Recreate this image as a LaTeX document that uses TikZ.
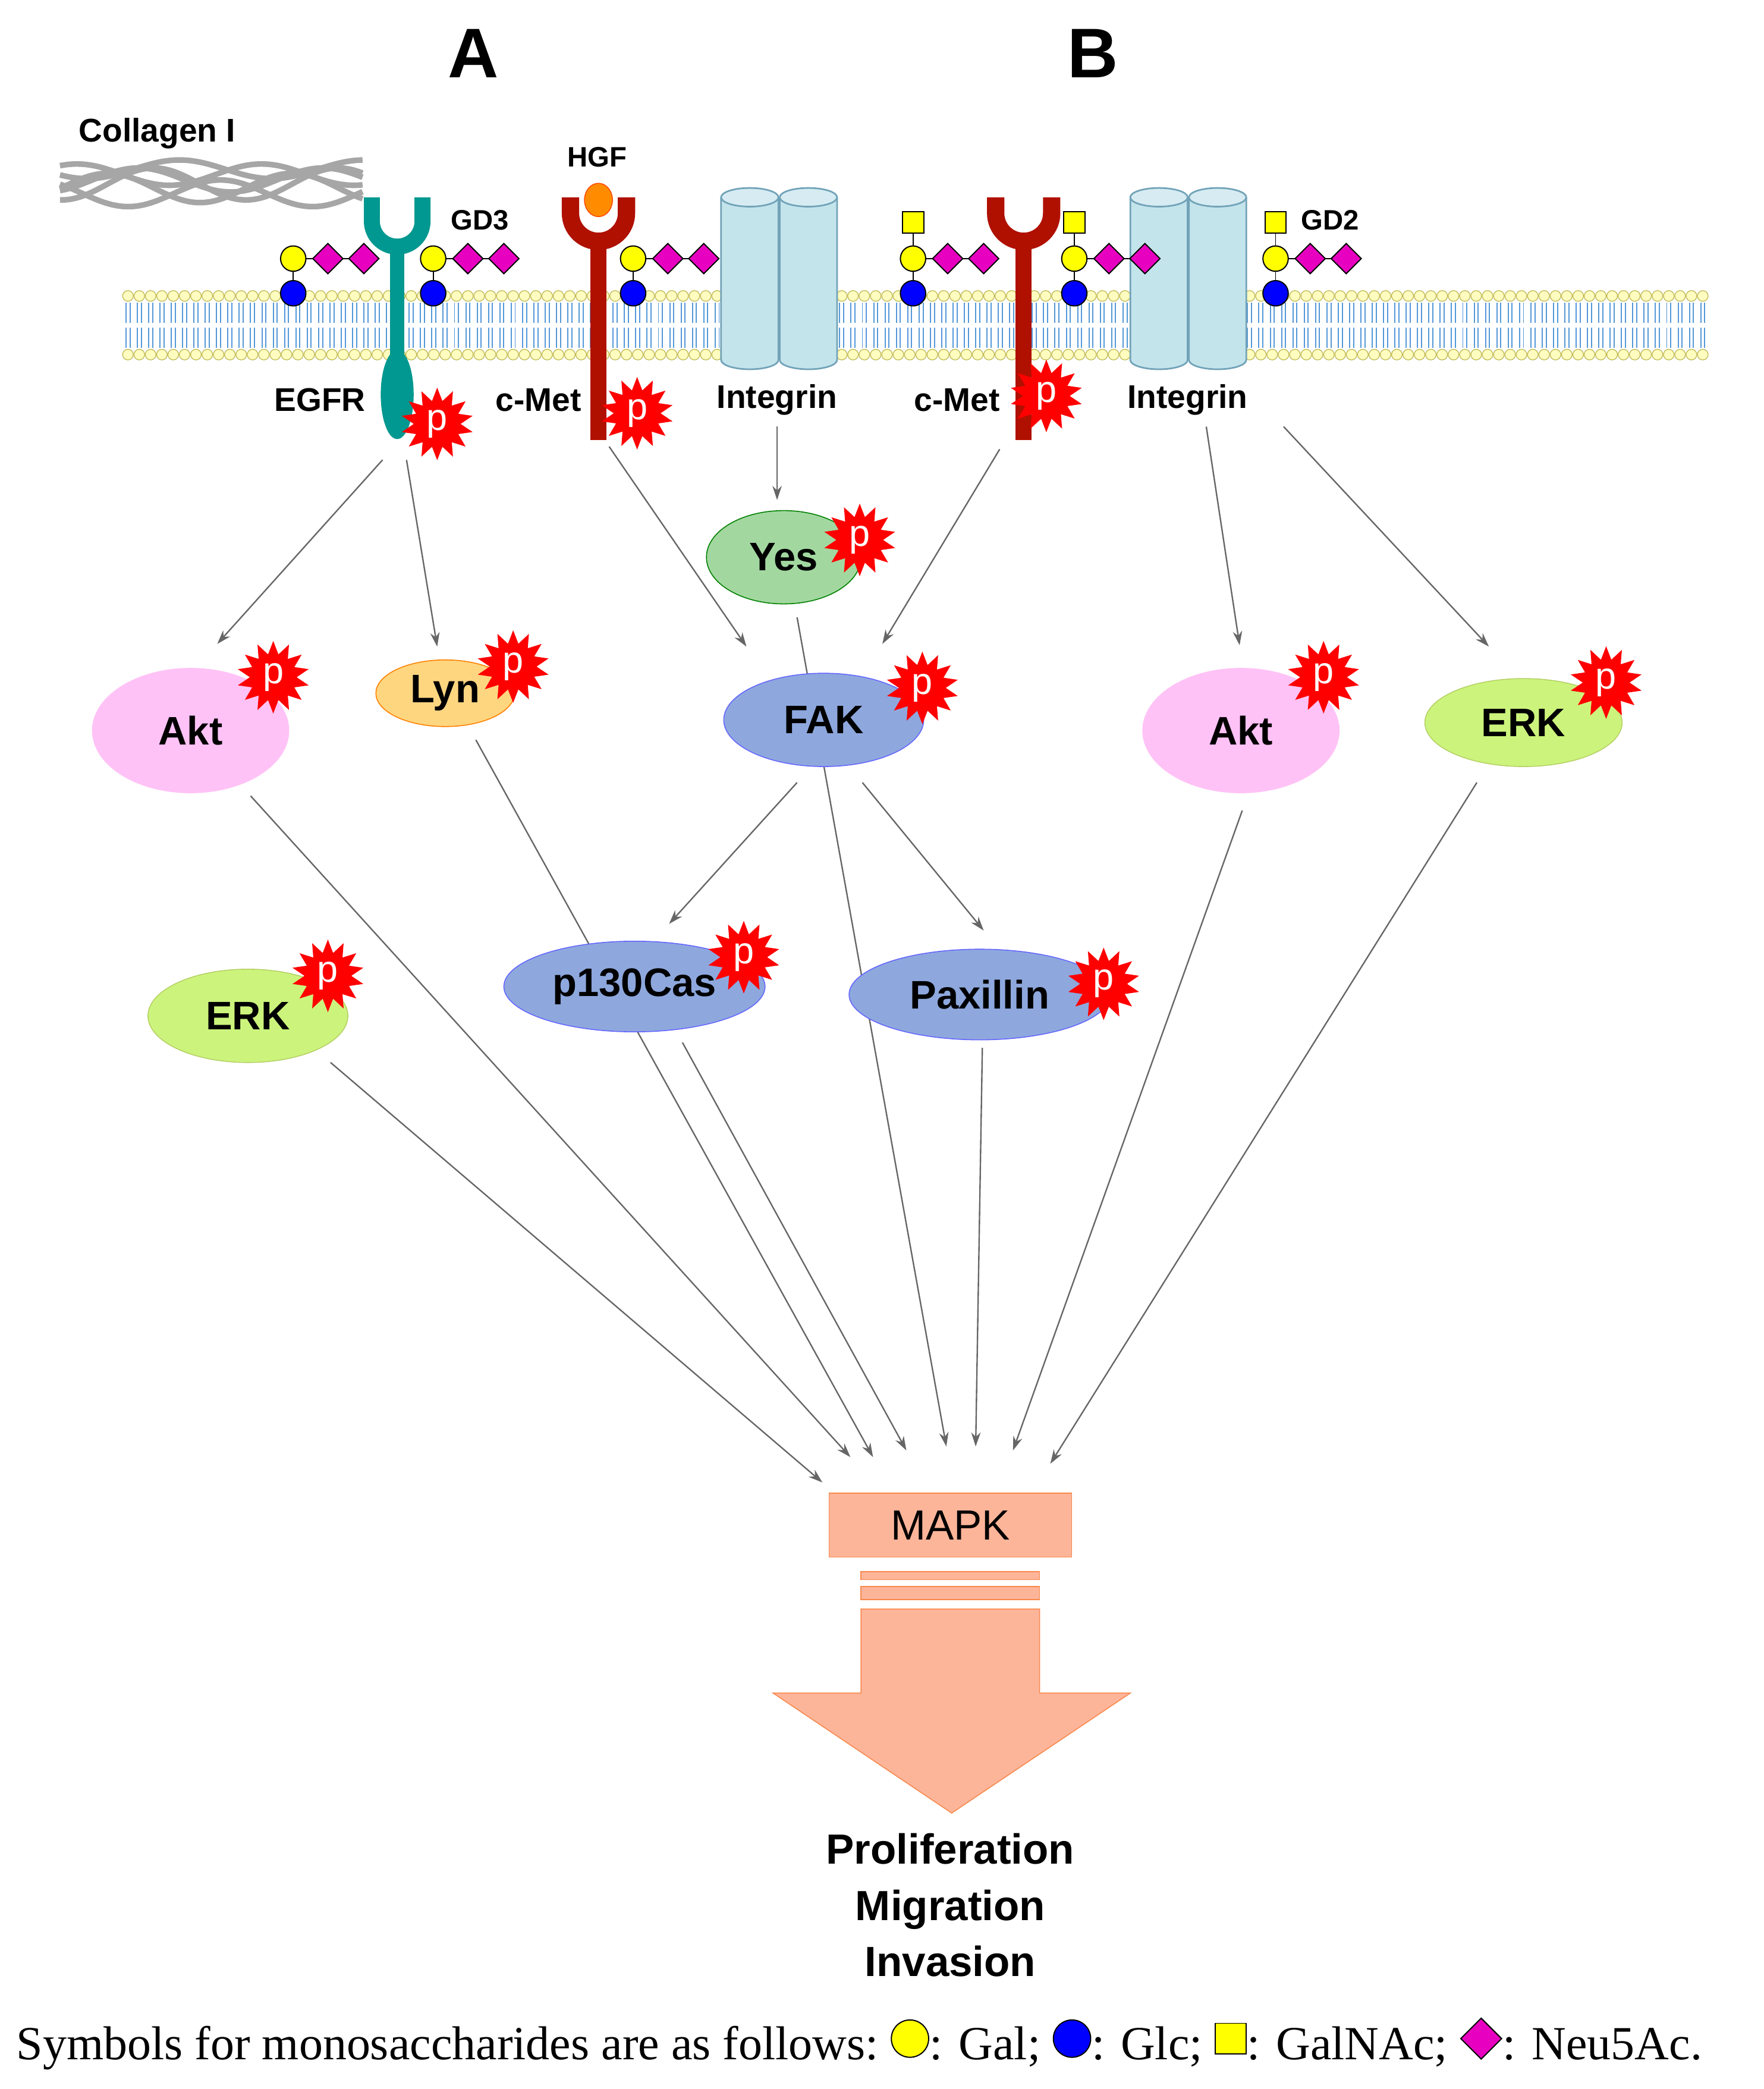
\documentclass[tikz,border=0pt]{standalone}
\usepackage{fontspec}
\setmainfont{Liberation Serif}
\newfontfamily\lsans{Liberation Sans}
\usetikzlibrary{arrows.meta,shapes.geometric,backgrounds,positioning,calc}
\definecolor{gal}{HTML}{FFFF00}
\definecolor{glc}{HTML}{0000FF}
\definecolor{neu}{HTML}{E800C0}
\definecolor{teal1}{HTML}{009890}
\definecolor{cmet}{HTML}{B01000}
\definecolor{intg}{HTML}{C4E4EC}
\definecolor{salmon}{HTML}{FDB59A}
\definecolor{salmonln}{HTML}{F8884C}
\definecolor{pblue}{HTML}{8EA8DE}
\definecolor{pgreen}{HTML}{A2D8A0}
\definecolor{plyn}{HTML}{FFD680}
\definecolor{pakt}{HTML}{FFC2F6}
\definecolor{perk}{HTML}{CCF47C}
\tikzset{
  sug/.style={draw=black, line width=.5pt},
  gal/.style={sug, circle, fill=gal, inner sep=0pt, minimum size=.38cm},
  glc/.style={sug, circle, fill=glc, inner sep=0pt, minimum size=.38cm},
  neu/.style={sug, diamond, fill=neu, inner sep=0pt, minimum size=.46cm},
  gnac/.style={sug, rectangle, fill=gal, inner sep=0pt, minimum size=.32cm},
  glycan/.pic={
    \draw[line width=.5pt] (0,0) -- (0,26) (0,0) -- (53,0);
    \node[glc] at (0,26) {};
    \node[gal] at (0,0) {};
    \node[neu] at (26,0) {};
    \node[neu] at (53,0) {};
  },
  glycansq/.pic={
    \draw[line width=.5pt] (0,0) -- (0,-27);
    \node[gnac] at (0,-27) {};
    \pic at (0,0) {glycan};
  },
  prot/.style={ellipse, font=\lsans\bfseries\fontsize{17}{20}\selectfont, inner sep=0pt},
  pstar/.style={star, star points=14, star point ratio=1.55, fill=red, draw=red,
    minimum size=1.05cm, inner sep=0pt, text=white, font=\lsans\fontsize{16}{18}\selectfont},
  lab/.style={font=\lsans\bfseries\fontsize{14}{16}\selectfont},
  sig/.style={-{Stealth[length=6pt,width=4pt]}, gray!80!black, line width=.6pt},
  legt/.style={anchor=base west, inner sep=0pt, font=\fontsize{20.3}{24}\selectfont},
}
\begin{document}
\begin{tikzpicture}[x=0.02cm, y=-0.02cm]
\useasboundingbox (0,0) rectangle (1323,1567);

% titles
\node[font=\lsans\bfseries\fontsize{30}{34}\selectfont] (tA) at (355,40) {A};
\node[font=\lsans\bfseries\fontsize{30}{34}\selectfont] (tB) at (820,40) {B};

% collagen
\node[lab] (coll) at (118,100) {Collagen I};
\foreach \ph/\dy/\a in {0/0/9, 60/6/11, 120/-4/8, 200/10/10, 280/-8/7, 330/3/12}
  \draw[gray!70, line width=2.4pt] plot[domain=45:272, samples=60, smooth]
    (\x, {135+\dy+\a*sin(\x*2.6+\ph)});

% membrane
\foreach \i in {0,...,139} {
  \pgfmathsetmacro\xx{96+\i*8.5}
  \draw[cyan!60!blue!70, line width=.5pt] (\xx-1.5,227) -- (\xx-1.5,242) (\xx+1.5,227) -- (\xx+1.5,242)
    (\xx-1.5,246) -- (\xx-1.5,261) (\xx+1.5,246) -- (\xx+1.5,261);
  \draw[olive!60, fill=yellow!25, line width=.3pt] (\xx,222) circle (4) (\xx,266) circle (4);
}

% integrins
\foreach \x/\n in {541/iA, 848/iB} {
  \foreach \s in {0,44} {
    \draw[fill=intg, draw=gray!60!cyan, line width=.7pt]
      (\x+\s,148) -- (\x+\s,270) arc(180:0:21.5 and 7) -- (\x+\s+43,148);
    \draw[fill=intg!70!white, draw=gray!60!cyan, line width=.7pt] (\x+\s+21.5,148) ellipse (21.5 and 7);
  }
}

% EGFR
\draw[teal1, line width=.24cm] (279,148) -- (279,166) arc(180:0:19) -- (317,148);
\draw[teal1, line width=.22cm] (298,183) -- (298,268);
\draw[fill=teal1, draw=teal1] (298,296) ellipse (12 and 33);
% c-Met
\draw[cmet, line width=.26cm] (428,148) -- (428,160) arc(180:0:21) -- (470,148);
\draw[cmet, line width=.26cm] (747,148) -- (747,160) arc(180:0:21) -- (789,148);
\draw[cmet, line width=.24cm] (449,178) -- (449,330);
\draw[cmet, line width=.24cm] (768,178) -- (768,330);
\node[ellipse, fill=orange!90!yellow, draw=orange!60!red, minimum width=.42cm, minimum height=.5cm] (hgf) at (449,150) {};
\node[lab, font=\lsans\bfseries\fontsize{12}{14}\selectfont] (hgfl) at (448,118) {HGF};

% glycans
\pic at (220,194) {glycan};
\pic at (325,194) {glycan};
\pic at (475,194) {glycan};
\pic at (685,194) {glycansq};
\pic at (806,194) {glycansq};
\pic at (957,194) {glycansq};
\node[lab, font=\lsans\bfseries\fontsize{12}{14}\selectfont] (gd3) at (360,165) {GD3};
\node[lab, font=\lsans\bfseries\fontsize{12}{14}\selectfont] (gd2) at (998,165) {GD2};

% receptor labels
\node[lab] (egfr) at (240,300) {EGFR};
\node[lab] (cmetA) at (404,300) {c-Met};
\node[lab] (intA) at (583,300) {Integrin};
\node[lab] (cmetB) at (718,300) {c-Met};
\node[lab] (intB) at (891,300) {Integrin};
\coordinate (egfrA) at (287,345);
\coordinate (egfrB) at (305,345);
\coordinate (metA) at (457,335);
\coordinate (metB) at (750,337);
\coordinate (intAo) at (583,320);
\coordinate (intBa) at (905,320);
\coordinate (intBb) at (963,320);

% proteins
\node[prot, fill=pakt, minimum width=2.96cm, minimum height=1.88cm] (akt1) at (143,548) {Akt};
\node[prot, fill=plyn, draw=orange, minimum width=2.08cm, minimum height=1cm] (lyn) at (334,520) {Lyn};
\node[prot, fill=pgreen, draw=green!50!black, minimum width=2.32cm, minimum height=1.4cm] (yes) at (588,418) {Yes};
\node[prot, fill=pblue, draw=blue!60, minimum width=3cm, minimum height=1.4cm] (fak) at (618,540) {FAK};
\node[prot, fill=pakt, minimum width=2.96cm, minimum height=1.88cm] (akt2) at (931,548) {Akt};
\node[prot, fill=perk, draw=lime!70!black!60, minimum width=2.96cm, minimum height=1.32cm] (erk2) at (1143,542) {ERK};
\node[prot, fill=perk, draw=lime!70!black!60, minimum width=3cm, minimum height=1.4cm] (erk1) at (186,762) {ERK};
\node[prot, fill=pblue, draw=blue!60, minimum width=3.92cm, minimum height=1.36cm] (p130) at (476,740) {p130Cas};
\node[prot, fill=pblue, draw=blue!60, minimum width=3.92cm, minimum height=1.36cm] (pax) at (735,746) {Paxillin};

% phosphorylation stars
\node[pstar] (pEgfr) at (328,318) {p};
\node[pstar] (pMetA) at (478,310) {p};
\node[pstar] (pMetB) at (785,297) {p};
\node[pstar] (pAkt1) at (205,508) {p};
\node[pstar] (pLyn) at (385,500) {p};
\node[pstar] (pYes) at (645,405) {p};
\node[pstar] (pFak) at (692,516) {p};
\node[pstar] (pAkt2) at (993,508) {p};
\node[pstar] (pErk2) at (1205,512) {p};
\node[pstar] (pErk1) at (246,732) {p};
\node[pstar] (pP130) at (558,718) {p};
\node[pstar] (pPax) at (828,738) {p};

% MAPK and outcome
\node[rectangle, fill=salmon, draw=salmonln, minimum width=3.64cm, minimum height=.96cm,
  font=\lsans\fontsize{18}{20}\selectfont] (mapk) at (713,1144) {MAPK};
\draw[fill=salmon, draw=salmonln] (646,1179) rectangle (780,1185);
\draw[fill=salmon, draw=salmonln] (646,1190) rectangle (780,1200);
\draw[fill=salmon, draw=salmonln] (646,1207) -- (780,1207) -- (780,1270) -- (848,1270)
  -- (714,1360) -- (580,1270) -- (646,1270) -- cycle;
\node[font=\lsans\bfseries\fontsize{18}{24}\selectfont, align=center] (out) at (713,1429)
  {Proliferation\\Migration\\Invasion};

% arrow targets at MAPK
\coordinate (m1) at (617,1112);
\coordinate (m2) at (638,1093);
\coordinate (m3) at (655,1093);
\coordinate (m4) at (680,1088);
\coordinate (m5) at (710,1085);
\coordinate (m6) at (732,1085);
\coordinate (m7) at (760,1088);
\coordinate (m8) at (788,1098);

% signalling
\begin{pgfonlayer}{background}
\draw[sig] (egfrA) -- ($(akt1)+(20,-65)$);
\draw[sig] (egfrB) -- ($(lyn)+(-6,-35)$);
\draw[sig] (metA) -- ($(fak)+(-58,-55)$);
\draw[sig] (intAo) -- ($(yes)+(-5,-43)$);
\draw[sig] (metB) -- ($(fak)+(44,-57)$);
\draw[sig] (intBa) -- ($(akt2)+(-1,-64)$);
\draw[sig] (intBb) -- ($(erk2)+(-26,-57)$);
\draw[sig] ($(fak)+(-20,47)$) -- ($(p130)+(26,-47)$);
\draw[sig] ($(fak)+(29,47)$) -- ($(pax)+(3,-48)$);
\draw[sig] ($(akt1)+(45,49)$) -- (m2);
\draw[sig] ($(lyn)+(23,35)$) -- (m3);
\draw[sig] ($(p130)+(36,42)$) -- (m4);
\draw[sig] ($(yes)+(10,45)$) -- (m5);
\draw[sig] ($(erk1)+(62,35)$) -- (m1);
\draw[sig] ($(pax)+(2,40)$) -- (m6);
\draw[sig] ($(akt2)+(1,60)$) -- (m7);
\draw[sig] ($(erk2)+(-35,45)$) -- (m8);
\end{pgfonlayer}

% legend
\node[legt] (leg1) at (12,1545) {Symbols for monosaccharides are as follows:};
\node[gal, minimum size=.56cm, anchor=west] (lgal) at ([xshift=5pt,yshift=9pt]leg1.base east) {};
\node[legt] (leg2) at (lgal.east |- leg1.base) {: Gal;};
\node[glc, minimum size=.56cm, anchor=west] (lglc) at ([xshift=5pt,yshift=9pt]leg2.base east) {};
\node[legt] (leg3) at (lglc.east |- leg1.base) {: Glc;};
\node[gnac, minimum size=.46cm, anchor=west] (lgnac) at ([xshift=5pt,yshift=9pt]leg3.base east) {};
\node[legt] (leg4) at (lgnac.east |- leg1.base) {: GalNAc;};
\node[neu, minimum size=.62cm, anchor=west] (lneu) at ([xshift=5pt,yshift=9pt]leg4.base east) {};
\node[legt] (leg5) at (lneu.east |- leg1.base) {: Neu5Ac.};
\end{tikzpicture}
\end{document}
